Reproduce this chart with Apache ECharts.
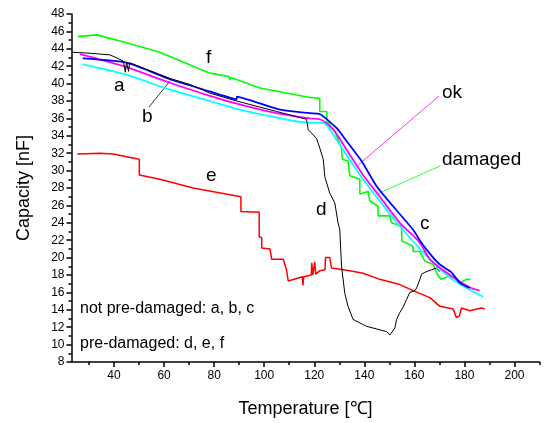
<!DOCTYPE html>
<html>
<head>
<meta charset="utf-8">
<script src="https://cdn.jsdelivr.net/npm/echarts@6/dist/echarts.min.js"></script>
<style>
  html, body { margin: 0; padding: 0; background: #fff; }
  #capChart { width: 546px; height: 423px; }
</style>
</head>
<body>
<div id="capChart"></div>
<script>
  // [temperature, capacity]
  const curveF = [[25.5, 45.4], [33.1, 45.6], [38.4, 45.2], [45.0, 44.7], [58.3, 43.6], [78.3, 41.2], [86.0, 40.8], [86.3, 40.4], [86.6, 40.7],
    [98.3, 39.5], [118.2, 38.4], [122.2, 38.3], [122.2, 36.8], [125.0, 36.8], [125.0, 35.7], [128.2, 34.5], [130.9, 32.6], [131.2, 31.3],
    [133.5, 31.1], [134.2, 29.4], [138.2, 29.0], [138.2, 27.3], [141.5, 27.6], [142.2, 26.5], [145.5, 25.9], [145.5, 24.8], [150.2, 24.8],
    [150.9, 24.0], [154.9, 23.6], [155.0, 21.9], [159.5, 21.3], [159.5, 20.7], [162.2, 20.7], [164.2, 19.6], [167.5, 19.2], [169.5, 17.9],
    [170.8, 17.5], [174.2, 17.9], [176.8, 17.5], [178.2, 17.1], [180.8, 17.5], [182.4, 17.5]];
  const curveE = [[25.3, 31.9], [34.4, 32.0], [39.7, 31.9], [45.0, 31.6], [50.1, 31.3], [50.1, 29.5], [58.3, 29.0], [71.6, 28.0], [90.7, 27.0],
    [90.7, 25.3], [98.0, 25.2], [98.0, 22.4], [99.0, 22.3], [99.0, 21.1], [102.3, 21.0], [103.0, 19.8], [107.6, 19.8], [108.9, 18.6],
    [109.6, 17.3], [115.3, 17.8], [115.5, 16.8], [115.8, 17.8], [118.8, 18.0], [119.0, 19.4], [119.4, 18.0], [120.2, 19.5], [120.6, 18.1],
    [122.2, 18.5], [124.3, 18.6], [124.5, 20.0], [126.2, 20.0], [126.9, 18.8], [134.2, 18.5], [139.5, 18.2], [146.2, 17.5], [154.2, 16.9],
    [159.5, 16.2], [166.2, 15.4], [170.2, 14.4], [175.5, 14.1], [176.8, 13.1], [178.0, 13.3], [178.8, 14.2], [182.1, 13.9], [186.8, 14.2], [188.1, 14.1]];
  const curveD = [[23.1, 43.6], [30.0, 43.5], [38.4, 43.3], [43.7, 42.6], [44.5, 41.3], [45.0, 42.5], [45.8, 41.4], [46.2, 42.4], [62.3, 40.6],
    [70.3, 39.9], [78.3, 38.9], [89.0, 38.0], [104.9, 36.8], [116.9, 35.9], [117.6, 34.7], [120.9, 33.7], [122.2, 32.6], [123.6, 31.3],
    [124.2, 29.3], [126.2, 27.4], [128.2, 26.3], [129.5, 24.0], [130.2, 23.2], [130.9, 19.0], [132.2, 15.9], [133.5, 14.4], [135.5, 12.9],
    [140.9, 12.1], [146.2, 11.7], [148.9, 11.5], [150.2, 11.1], [152.2, 11.9], [152.9, 12.9], [154.2, 13.7], [155.5, 14.3], [156.9, 15.2],
    [158.2, 16.0], [160.2, 16.2], [160.9, 16.5], [162.2, 17.5], [162.9, 18.1], [164.2, 18.3], [166.8, 18.6], [168.8, 18.8], [170.2, 18.4]];
  const curveA = [[27.5, 42.2], [45.0, 41.0], [62.3, 39.3], [78.3, 38.0], [89.0, 37.1], [104.9, 36.1], [118.2, 35.5], [123.6, 35.5],
    [127.6, 34.1], [132.9, 31.8], [139.5, 29.0], [146.2, 26.5], [154.2, 23.6], [164.9, 20.2], [174.2, 17.7], [182.1, 16.3], [187.5, 15.5]];
  const curveB = [[26.4, 43.4], [45.0, 41.9], [62.3, 40.1], [78.3, 38.6], [89.0, 37.7], [104.9, 36.6], [118.2, 36.0], [122.2, 35.9],
    [127.6, 34.7], [132.9, 32.4], [139.5, 29.5], [146.2, 27.0], [154.2, 24.0], [162.2, 21.7], [166.2, 19.8], [172.8, 18.3], [182.1, 16.6], [186.1, 16.2]];
  const curveC = [[27.5, 42.9], [45.0, 42.4], [62.3, 40.5], [78.3, 39.1], [89.0, 38.2], [89.1, 38.5], [106.3, 37.0], [118.2, 36.6],
    [122.2, 36.5], [128.9, 34.9], [132.9, 33.4], [138.9, 31.1], [144.9, 28.2], [151.5, 25.9], [159.5, 23.2], [162.8, 21.7], [167.5, 20.0],
    [170.2, 19.2], [174.8, 18.3], [178.2, 17.1], [182.1, 16.5]];

  const xLabelTicks = [40, 60, 80, 100, 120, 140, 160, 180, 200];
  const xMinorTicks = [30, 50, 70, 90, 110, 130, 150, 170, 190, 210];

  const font = 'Liberation Sans, Arial, sans-serif';

  let capChart = echarts.init(document.getElementById('capChart'));

  function line(data, color, width, smooth) {
    return {
      type: 'line',
      data: data,
      showSymbol: false,
      smooth: smooth || false,
      lineStyle: {color: color, width: width},
      itemStyle: {color: color}
    };
  }

  function label(text, x, y, size) {
    return {
      type: 'text', left: x, top: y,
      style: {text: text, font: size + 'px ' + font, fill: '#000'}
    };
  }

  capChart.setOption({
    animation: false,
    grid: {left: 71.5, right: 6.5, top: 14, bottom: 60},
    xAxis: [{
      type: 'value',
      min: 23,
      max: 210,
      name: 'Temperature [℃]',
      nameLocation: 'middle',
      nameGap: 38,
      nameTextStyle: {fontFamily: font, fontSize: 18, color: '#000'},
      axisLine: {lineStyle: {color: '#000', width: 1.5}},
      axisTick: {customValues: xLabelTicks, length: 5, lineStyle: {color: '#000', width: 1.5}},
      axisLabel: {customValues: xLabelTicks, fontFamily: font, fontSize: 12, color: '#000', margin: 8},
      splitLine: {show: false}
    }, {
      // minor ticks only
      type: 'value',
      min: 23,
      max: 210,
      position: 'bottom',
      axisLine: {show: false},
      axisTick: {customValues: xMinorTicks, length: 3, lineStyle: {color: '#000', width: 1.5}},
      axisLabel: {show: false},
      splitLine: {show: false}
    }],
    yAxis: {
      type: 'value',
      min: 8,
      max: 48,
      interval: 2,
      name: 'Capacity [nF]',
      nameLocation: 'middle',
      nameGap: 38,
      nameTextStyle: {fontFamily: font, fontSize: 18, color: '#000'},
      axisLine: {show: true, lineStyle: {color: '#000', width: 1.5}},
      axisTick: {length: 5, lineStyle: {color: '#000', width: 1.5}},
      minorTick: {show: true, splitNumber: 2, length: 3, lineStyle: {color: '#000', width: 1.5}},
      axisLabel: {fontFamily: font, fontSize: 12, color: '#000', margin: 7},
      splitLine: {show: false}
    },
    series: [
      line(curveF, '#00ff00', 1.6),
      line(curveE, '#ff0000', 1.5),
      line(curveA, '#00ffff', 1.8, 0.3),
      line(curveB, '#ff00ff', 1.8, 0.3),
      line(curveC, '#0000ff', 1.8, 0.2),
      line(curveD, '#000000', 1)
    ],
    graphic: [
      label('f', 206, 48, 19),
      label('a', 114, 76, 19),
      label('b', 142, 107, 19),
      label('e', 206, 166, 19),
      label('d', 316, 200, 19),
      label('c', 420, 214, 19),
      label('ok', 442, 83, 19),
      label('damaged', 442, 150, 19),
      label('not pre-damaged: a, b, c', 80, 301, 16),
      label('pre-damaged: d, e, f', 80, 336, 16),
      {type: 'line', shape: {x1: 170, y1: 81, x2: 149, y2: 107}, style: {stroke: '#000', lineWidth: 0.8}},
      {type: 'line', shape: {x1: 439, y1: 96, x2: 357, y2: 166}, style: {stroke: '#ff00ff', lineWidth: 0.8}},
      {type: 'line', shape: {x1: 440, y1: 166, x2: 377, y2: 194}, style: {stroke: '#00ff00', lineWidth: 0.8}}
    ]
  });
</script>
</body>
</html>
